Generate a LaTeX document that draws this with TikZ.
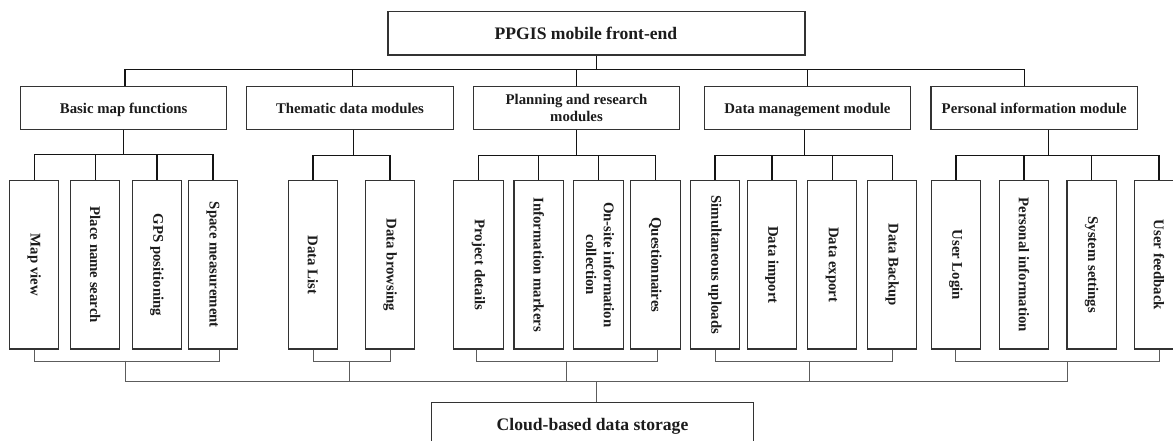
\documentclass[tikz,border=0pt]{standalone}
\usepackage{fontspec}
\setmainfont{Liberation Serif}
\usetikzlibrary{calc}

\definecolor{ink}{HTML}{1C1C1C}
\definecolor{frame}{HTML}{333333}
\definecolor{wire}{HTML}{141414}
\definecolor{thinwire}{HTML}{5C5C5C}

\newcommand{\vlabel}[1]{\rotatebox{-90}{#1}}
\newcommand{\vlabeltwo}[2]{\rotatebox{-90}{\begin{tabular}{@{}c@{}}#1\\#2\end{tabular}}}

\begin{document}
\begin{tikzpicture}[x=1bp,y=-1bp,
  every node/.style={inner sep=0pt, text=ink},
  bigbox/.style={draw=frame, line width=1.1pt, minimum width=417bp, minimum height=43.3bp,
    text depth=0pt, font=\bfseries\fontsize{17.6bp}{20bp}\selectfont},
  modbox/.style={draw=frame, line width=1.1pt, minimum width=206.4bp, minimum height=42.6bp,
    align=center, text depth=0pt, font=\bfseries\fontsize{14.8bp}{17.7bp}\selectfont},
  leafbox/.style={draw=frame, line width=1.1pt, minimum width=49.4bp, minimum height=168.3bp,
    font=\bfseries\fontsize{14.8bp}{17.7bp}\selectfont},
  upwire/.style={draw=wire, line width=1.35pt},
  lowwire/.style={draw=thinwire, line width=0.9pt}]

\useasboundingbox (0,0) rectangle (1173,441);
\fill[white] (0,0) rectangle (1173,441);
\clip (0,0) rectangle (1173,441);

% root
\node[bigbox] (top) at (596.5,33.35) {\hspace*{-21bp}PPGIS mobile front-end};

% modules
\node[modbox] (basic) at (123.7,108) {Basic map functions};
\node[modbox] (thema) at (350,108) {Thematic data modules};
\node[modbox] (plan)  at (576.5,108) {Planning and research\\modules};
\node[modbox] (dman)  at (807.5,108) {Data management module};
\node[modbox] (pinfo) at (1034.2,108) {Personal information module};

% functions
\node[leafbox] (mapv)   at (34.2,264.85)  {\vlabel{Map view}};
\node[leafbox] (place)  at (95.2,264.85)  {\vlabel{Place name search}};
\node[leafbox] (gps)    at (156.9,264.85) {\vlabel{GPS positioning}};
\node[leafbox] (space)  at (213,264.85)   {\vlabel{Space measurement}};

\node[leafbox] (dlist)  at (313,264.85)   {\vlabel{Data List}};
\node[leafbox] (dbrow)  at (390,264.85)   {\vlabel{Data browsing}};

\node[leafbox] (proj)   at (478.5,264.85) {\vlabel{Project details}};
\node[leafbox] (imark)  at (538.7,264.85) {\vlabel{Information markers}};
\node[leafbox] (onsite) at (598.5,264.85) {\vlabeltwo{On-site information}{collection}};
\node[leafbox] (quest)  at (655.4,264.85) {\vlabel{Questionnaires}};

\node[leafbox] (simul)  at (715,264.85)   {\vlabel{Simultaneous uploads}};
\node[leafbox] (dimp)   at (771.9,264.85) {\vlabel{Data import}};
\node[leafbox] (dexp)   at (832.2,264.85) {\vlabel{Data export}};
\node[leafbox] (dback)  at (892.2,264.85) {\vlabel{Data Backup}};

\node[leafbox] (login)  at (955.9,264.85) {\vlabel{User Login}};
\node[leafbox] (pers)   at (1024,264.85)  {\vlabel{Personal information}};
\node[leafbox] (sys)    at (1091.7,264.85){\vlabel{System settings}};
\node[leafbox] (feed)   at (1159,264.85)  {\vlabel{User feedback}};

% storage
\node[bigbox, minimum width=321.6bp] (cloud) at (592.5,423.95) {Cloud-based data storage};

% root to modules
\draw[upwire] (top.south) -- ++(0,13.7) coordinate (hub);
\draw[upwire] (hub) -| ([xshift=1.3bp]basic.north);
\draw[upwire] (hub) -| ([xshift=2.5bp]thema.north);
\draw[upwire] (hub) -| (plan.north);
\draw[upwire] (hub) -| (dman.north);
\draw[upwire] (hub) -| ([xshift=-9.5bp]pinfo.north);

% modules to functions
\draw[upwire] (basic.south) -- ++(0,24.7) coordinate (bj);
\foreach \n in {mapv,place,gps,space} \draw[upwire] (bj) -| (\n.north);
\draw[upwire] ([xshift=3.3bp]thema.south) -- ++(0,25.7) coordinate (tj);
\foreach \n in {dlist,dbrow} \draw[upwire] (tj) -| (\n.north);
\draw[upwire] (plan.south) -- ++(0,25.7) coordinate (pj);
\foreach \n in {proj,imark,onsite,quest} \draw[upwire] (pj) -| (\n.north);
\draw[upwire] ([xshift=-2.8bp]dman.south) -- ++(0,25.7) coordinate (dj);
\foreach \n in {simul,dimp,dexp,dback} \draw[upwire] (dj) -| (\n.north);
\draw[upwire] ([xshift=14.5bp]pinfo.south) -- ++(0,25.7) coordinate (ij);
\foreach \n in {login,pers,sys,feed} \draw[upwire] (ij) -| (\n.north);

% functions to storage
\coordinate (lb1) at (125.3,360.7);
\coordinate (lb2) at (349,360.7);
\coordinate (lb3) at (566,360.7);
\coordinate (lb4) at (809.7,360.7);
\coordinate (lb5) at (1067.7,360.7);
\coordinate (lowbus) at (0,381.7);

\draw[lowwire] (mapv.south) -- ++(0,11.7) -| ([xshift=6.3bp]space.south);
\draw[lowwire] (dlist.south) -- ++(0,11.7) -| (dbrow.south);
\draw[lowwire] ([xshift=-2.5bp]proj.south) -- ++(0,11.7) -| ([xshift=2.3bp]quest.south);
\draw[lowwire] (simul.south) -- ++(0,11.7) -| (dback.south);
\draw[lowwire] (login.south) -- ++(0,11.7) -| (feed.south);

\draw[lowwire] (lb1) |- (lowbus -| lb5) -- (lb5);
\foreach \c in {lb2,lb3,lb4} \draw[lowwire] (\c) -- (\c |- lowbus);
\draw[lowwire] ([xshift=3.5bp]cloud.north) -- ([xshift=3.5bp]cloud.north |- lowbus);

\end{tikzpicture}
\end{document}
